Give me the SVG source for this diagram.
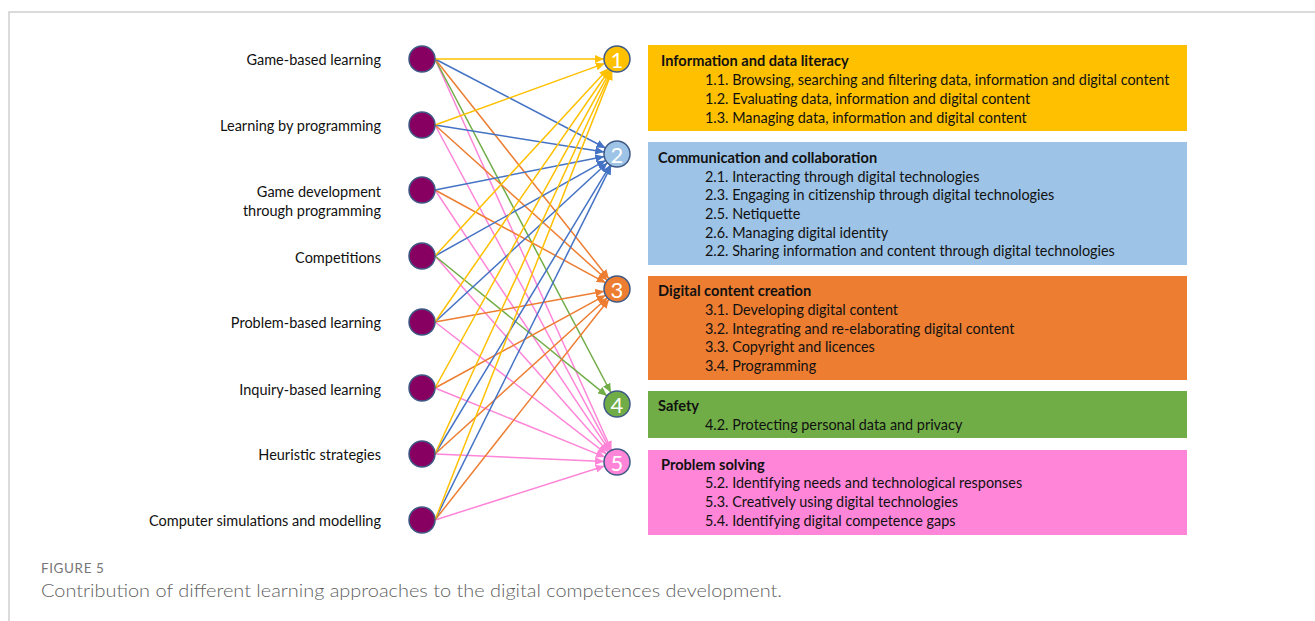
<svg xmlns="http://www.w3.org/2000/svg" width="1315" height="621" viewBox="0 0 1315 621">
  <style>
    .lbl { font-family: Lato, "Liberation Sans", sans-serif; font-size: 14.5px; fill: #111; text-anchor: end; dominant-baseline: central; }
    .src { fill: #870061; stroke: #3f5a86; stroke-width: 1.5; }
    .tgt { stroke: #3f5a86; stroke-width: 1.5; }
    .num { font-family: Lato, "Liberation Sans", sans-serif; font-size: 22px; fill: #fff; text-anchor: middle; dominant-baseline: central; }
    .box-title { font-family: Lato, "Liberation Sans", sans-serif; font-size: 14.6px; font-weight: bold; fill: #111; dominant-baseline: central; }
    .box-item { font-family: Lato, "Liberation Sans", sans-serif; font-size: 14.4px; fill: #111; dominant-baseline: central; }
    .e { fill: none; stroke-width: 1.5; }
    .y { stroke: #ffc000; } .b { stroke: #4472c4; } .o { stroke: #ed7d31; } .g { stroke: #70ad47; } .p { stroke: #ff85d8; }
    .cap-h { font-family: Lato, "Open Sans", sans-serif; font-size: 13.5px; letter-spacing: 0.6px; fill: #777; }
    .cap { font-family: Lato, "Open Sans", sans-serif; font-size: 18px; font-weight: 300; fill: #5f5f5f; }
  </style>
  <defs>
    <marker id="ay" markerUnits="userSpaceOnUse" markerWidth="10" markerHeight="8" refX="9" refY="4" orient="auto"><path d="M0,0 L9,4 L0,8 z" fill="#ffc000"/></marker>
    <marker id="ab" markerUnits="userSpaceOnUse" markerWidth="10" markerHeight="8" refX="9" refY="4" orient="auto"><path d="M0,0 L9,4 L0,8 z" fill="#4472c4"/></marker>
    <marker id="ao" markerUnits="userSpaceOnUse" markerWidth="10" markerHeight="8" refX="9" refY="4" orient="auto"><path d="M0,0 L9,4 L0,8 z" fill="#ed7d31"/></marker>
    <marker id="ag" markerUnits="userSpaceOnUse" markerWidth="10" markerHeight="8" refX="9" refY="4" orient="auto"><path d="M0,0 L9,4 L0,8 z" fill="#70ad47"/></marker>
    <marker id="ap" markerUnits="userSpaceOnUse" markerWidth="10" markerHeight="8" refX="9" refY="4" orient="auto"><path d="M0,0 L9,4 L0,8 z" fill="#ff85d8"/></marker>
  </defs>

  <rect width="1315" height="621" fill="#fff"/>
  <!-- panel frame -->
  <path d="M9,621 L9,12 L1315,12" fill="none" stroke="#cfcfcf" stroke-width="1.5"/>

  <!-- connectors -->
  <g id="connectors">
    <g class="e p" marker-end="url(#ap)">
      <line x1="435" y1="59" x2="611.6" y2="450.2"/>
      <line x1="435" y1="125" x2="610.8" y2="450.6"/>
      <line x1="435" y1="190" x2="609.8" y2="451.2"/>
      <line x1="435" y1="256" x2="608.4" y2="452.3"/>
      <line x1="435" y1="322" x2="606.7" y2="454.1"/>
      <line x1="435" y1="388" x2="605.0" y2="457.1"/>
      <line x1="435" y1="454" x2="604.0" y2="461.4"/>
      <line x1="435" y1="520" x2="604.6" y2="466.0"/>
    </g>
    <g class="e g" marker-end="url(#ag)">
      <line x1="435" y1="59" x2="610.9" y2="392.5"/>
      <line x1="435" y1="256" x2="606.9" y2="395.8"/>
    </g>
    <g class="e o" marker-end="url(#ao)">
      <line x1="435" y1="59" x2="608.9" y2="278.8"/>
      <line x1="435" y1="125" x2="607.3" y2="280.3"/>
      <line x1="435" y1="190" x2="605.6" y2="282.8"/>
      <line x1="435" y1="322" x2="604.2" y2="291.3"/>
      <line x1="435" y1="388" x2="605.6" y2="295.2"/>
      <line x1="435" y1="454" x2="607.4" y2="297.7"/>
      <line x1="435" y1="520" x2="609.0" y2="299.2"/>
    </g>
    <g class="e b" marker-end="url(#ab)">
      <line x1="435" y1="59" x2="605.5" y2="148.0"/>
      <line x1="435" y1="125" x2="604.2" y2="152.0"/>
      <line x1="435" y1="190" x2="604.2" y2="156.5"/>
      <line x1="435" y1="256" x2="605.7" y2="160.4"/>
      <line x1="435" y1="322" x2="607.4" y2="162.8"/>
      <line x1="435" y1="454" x2="610.3" y2="165.1"/>
      <line x1="435" y1="520" x2="611.2" y2="165.6"/>
    </g>
    <g class="e y" marker-end="url(#ay)">
      <line x1="435" y1="59" x2="604.0" y2="59.0"/>
      <line x1="435" y1="125" x2="604.8" y2="63.4"/>
      <line x1="435" y1="256" x2="608.2" y2="68.5"/>
      <line x1="435" y1="322" x2="609.6" y2="69.7"/>
      <line x1="435" y1="388" x2="610.7" y2="70.4"/>
      <line x1="435" y1="454" x2="611.6" y2="70.8"/>
      <line x1="435" y1="520" x2="612.2" y2="71.1"/>
    </g>
  </g>

  <!-- learning approaches -->
  <g id="approach-game-based">
    <text class="lbl" x="381" y="59">Game-based learning</text>
    <circle class="src" cx="422" cy="59" r="13"/>
  </g>
  <g id="approach-programming">
    <text class="lbl" x="381" y="125">Learning by programming</text>
    <circle class="src" cx="422" cy="125" r="13"/>
  </g>
  <g id="approach-game-dev">
    <text class="lbl" x="381" y="191">Game development</text>
    <text class="lbl" x="381" y="210">through programming</text>
    <circle class="src" cx="422" cy="190" r="13"/>
  </g>
  <g id="approach-competitions">
    <text class="lbl" x="381" y="257">Competitions</text>
    <circle class="src" cx="422" cy="256" r="13"/>
  </g>
  <g id="approach-problem-based">
    <text class="lbl" x="381" y="322">Problem-based learning</text>
    <circle class="src" cx="422" cy="322" r="13"/>
  </g>
  <g id="approach-inquiry-based">
    <text class="lbl" x="381" y="389">Inquiry-based learning</text>
    <circle class="src" cx="422" cy="388" r="13"/>
  </g>
  <g id="approach-heuristic">
    <text class="lbl" x="381" y="454">Heuristic strategies</text>
    <circle class="src" cx="422" cy="454" r="13"/>
  </g>
  <g id="approach-simulations">
    <text class="lbl" x="381" y="520">Computer simulations and modelling</text>
    <circle class="src" cx="422" cy="520" r="13"/>
  </g>

  <!-- competence areas -->
  <g id="area-1">
    <circle class="tgt" cx="617" cy="59" r="13" fill="#ffc000"/>
    <text class="num" x="617" y="59">1</text>
    <rect x="648" y="45" width="539" height="86" fill="#ffc000"/>
    <text class="box-title" x="661" y="60">Information and data literacy</text>
    <text class="box-item" x="705" y="79">1.1. Browsing, searching and filtering data, information and digital content</text>
    <text class="box-item" x="705" y="98">1.2. Evaluating data, information and digital content</text>
    <text class="box-item" x="705" y="117">1.3. Managing data, information and digital content</text>
  </g>
  <g id="area-2">
    <circle class="tgt" cx="617" cy="154" r="13" fill="#9dc3e6"/>
    <text class="num" x="617" y="154">2</text>
    <rect x="648" y="142" width="539" height="123" fill="#9dc3e6"/>
    <text class="box-title" x="658" y="157">Communication and collaboration</text>
    <text class="box-item" x="705" y="176">2.1. Interacting through digital technologies</text>
    <text class="box-item" x="705" y="194">2.3. Engaging in citizenship through digital technologies</text>
    <text class="box-item" x="705" y="213">2.5. Netiquette</text>
    <text class="box-item" x="705" y="232">2.6. Managing digital identity</text>
    <text class="box-item" x="705" y="250">2.2. Sharing information and content through digital technologies</text>
  </g>
  <g id="area-3">
    <circle class="tgt" cx="617" cy="289" r="13" fill="#ed7d31"/>
    <text class="num" x="617" y="289">3</text>
    <rect x="648" y="276" width="539" height="104" fill="#ed7d31"/>
    <text class="box-title" x="658" y="290">Digital content creation</text>
    <text class="box-item" x="705" y="309">3.1. Developing digital content</text>
    <text class="box-item" x="705" y="328">3.2. Integrating and re-elaborating digital content</text>
    <text class="box-item" x="705" y="346">3.3. Copyright and licences</text>
    <text class="box-item" x="705" y="365">3.4. Programming</text>
  </g>
  <g id="area-4">
    <circle class="tgt" cx="617" cy="404" r="13" fill="#70ad47"/>
    <text class="num" x="617" y="404">4</text>
    <rect x="648" y="391" width="539" height="47" fill="#70ad47"/>
    <text class="box-title" x="658" y="405">Safety</text>
    <text class="box-item" x="705" y="424">4.2. Protecting personal data and privacy</text>
  </g>
  <g id="area-5">
    <circle class="tgt" cx="617" cy="462" r="13" fill="#ff85d8"/>
    <text class="num" x="617" y="462">5</text>
    <rect x="648" y="450" width="539" height="85" fill="#ff85d8"/>
    <text class="box-title" x="661" y="464">Problem solving</text>
    <text class="box-item" x="705" y="482">5.2. Identifying needs and technological responses</text>
    <text class="box-item" x="705" y="501">5.3. Creatively using digital technologies</text>
    <text class="box-item" x="705" y="520">5.4. Identifying digital competence gaps</text>
  </g>

  <!-- caption -->
  <g id="caption">
    <text class="cap-h" x="41" y="573">FIGURE 5</text>
    <text class="cap" x="41" y="597" textLength="741" lengthAdjust="spacingAndGlyphs">Contribution of different learning approaches to the digital competences development.</text>
  </g>
</svg>
